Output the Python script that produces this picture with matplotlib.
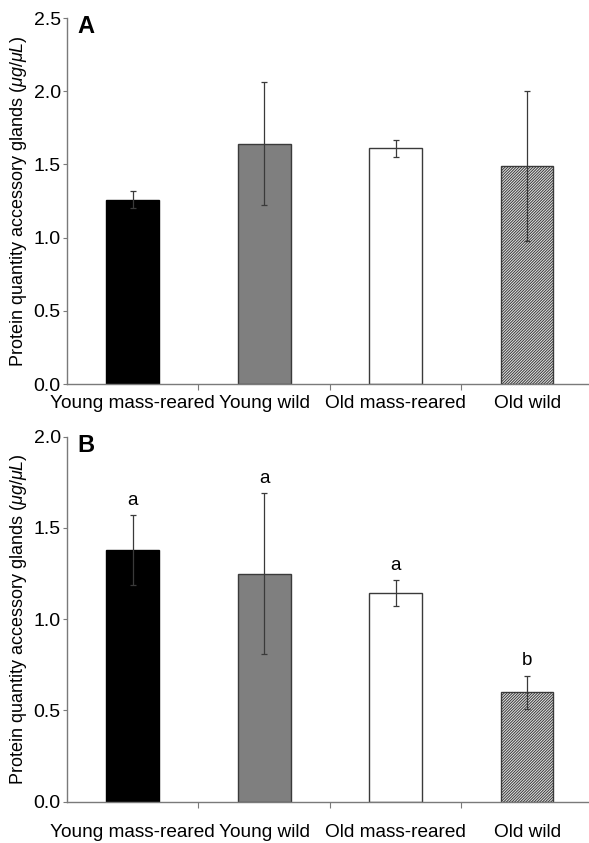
import matplotlib
matplotlib.use("Agg")
import matplotlib.pyplot as plt
import numpy as np

categories = ["Young mass-reared", "Young wild", "Old mass-reared", "Old wild"]
a_means = [1.26, 1.64, 1.61, 1.49]
a_err = [0.06, 0.42, 0.06, 0.51]
b_means = [1.38, 1.25, 1.145, 0.60]
b_err = [0.19, 0.44, 0.07, 0.09]
b_letters = ["a", "a", "a", "b"]
a_yticks = [0.0, 0.5, 1.0, 1.5, 2.0, 2.5]
b_yticks = [0.0, 0.5, 1.0, 1.5, 2.0]

plt.rcParams['font.family'] = ['Liberation Sans', 'DejaVu Sans']
plt.rcParams['mathtext.fontset'] = 'custom'
plt.rcParams['mathtext.rm'] = 'Liberation Sans'
plt.rcParams['mathtext.it'] = 'Liberation Sans:italic'
plt.rcParams['hatch.linewidth'] = 0.7
plt.rcParams['hatch.color'] = '#505050'

fig = plt.figure(figsize=(5.89, 8.43), dpi=100)
axA = fig.add_axes([0.11375, 0.54448, 0.88625, 0.43416])
axB = fig.add_axes([0.11375, 0.04899, 0.88625, 0.43298])

faces = ['black', '#7f7f7f', 'white', '#e6e6e6']
edges = ['black', '#3a3a3a', '#3a3a3a', '#3a3a3a']
hatches = [None, None, None, '////////////']
spine_col = '#7a7a7a'
ylabel = 'Protein quantity accessory glands ($\\mathit{\\mu g/\\mu L}$)'

def draw(ax, means, errs, yticks, ymax, label, lab_pad):
    x = np.arange(len(categories))
    bars = ax.bar(x, means, width=0.40, color=faces, edgecolor=edges, linewidth=1.0, zorder=2)
    for b, h in zip(bars, hatches):
        if h:
            b.set_hatch(h)
    ax.errorbar(x, means, yerr=errs, fmt='none', ecolor='#3a3a3a', elinewidth=0.9,
                capsize=2.2, capthick=0.9, zorder=3)
    ax.set_xlim(-0.5, 3.47)
    ax.set_ylim(0, ymax)
    ax.set_yticks(yticks)
    ax.set_yticklabels([f"{t:.1f}" for t in yticks], fontsize=14)
    ax.set_xticks([0.5, 1.5, 2.5])
    ax.set_xticklabels([])
    ax.set_xticks(x, minor=True)
    ax.set_xticklabels(categories, minor=True, fontsize=13.7)
    ax.tick_params(axis='x', which='minor', length=0, pad=lab_pad)
    ax.tick_params(axis='x', which='major', length=4, color=spine_col, width=0.8, direction='out')
    ax.tick_params(axis='y', length=3, color=spine_col, width=0.8, direction='out', pad=1.5)
    for s in ['top', 'right']:
        ax.spines[s].set_visible(False)
    for s in ['left', 'bottom']:
        ax.spines[s].set_color(spine_col)
        ax.spines[s].set_linewidth(1.0)
    ax.set_ylabel(ylabel, fontsize=13, labelpad=3)
    ax.text(0.019, 1.008, label, transform=ax.transAxes, fontsize=17, fontweight='bold',
            va='top', ha='left')

draw(axA, a_means, a_err, a_yticks, 2.5, 'A', 8)
draw(axB, b_means, b_err, b_yticks, 2.0, 'B', 16)

for i, (m, e, l) in enumerate(zip(b_means, b_err, b_letters)):
    axB.annotate(l, xy=(i, m + e), xytext=(0, 7.5), textcoords='offset points',
                 ha='center', va='baseline', fontsize=13.5)

fig.savefig('out.png', dpi=100)
